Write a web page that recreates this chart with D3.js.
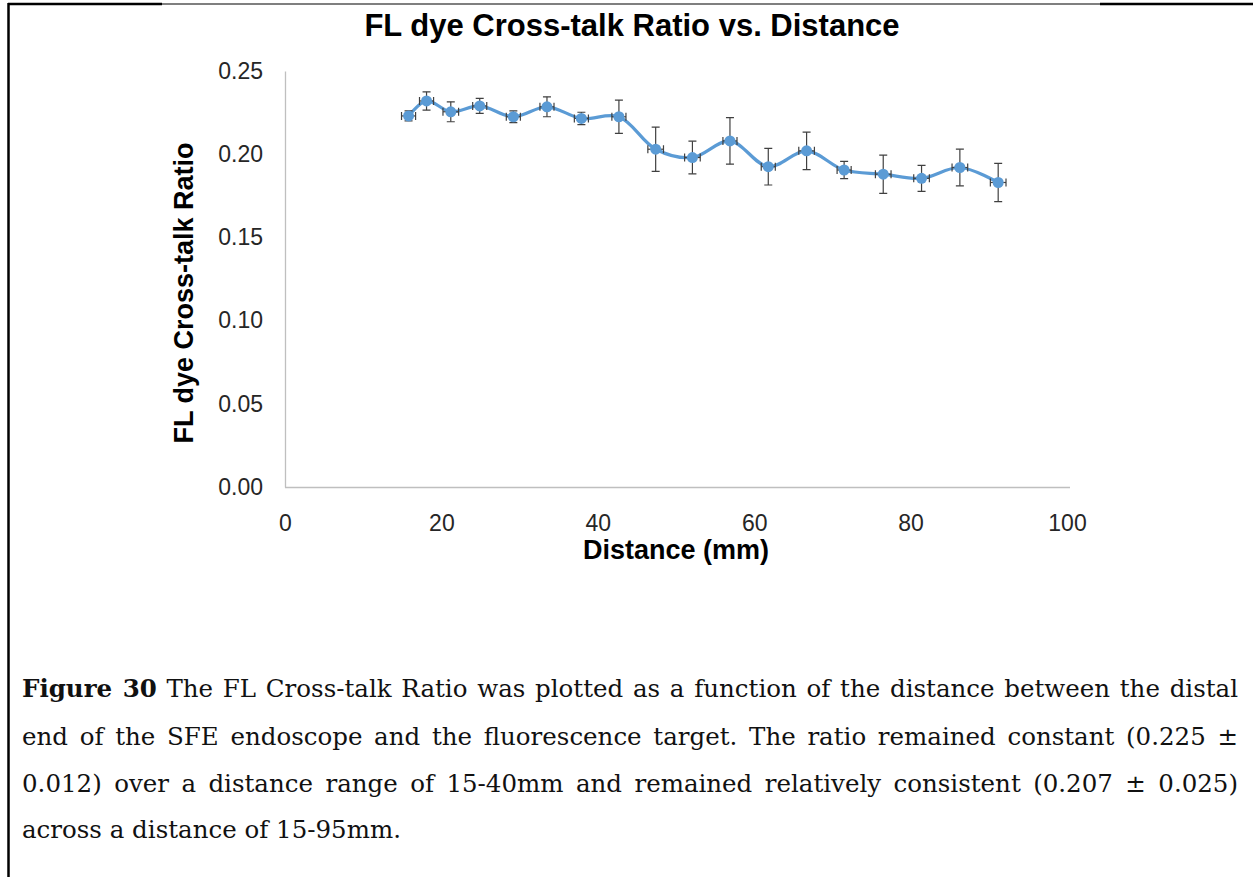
<!DOCTYPE html>
<html>
<head>
<meta charset="utf-8">
<script src="https://cdnjs.cloudflare.com/ajax/libs/d3/7.8.5/d3.min.js"></script>
<style>
  body { margin: 0; background: #fff; }
  svg { display: block; }
</style>
</head>
<body>
<div id="chart"></div>
<script>
// values
const distance = [15.8, 18.1, 21.2, 24.9, 29.2, 33.5, 37.9, 42.7, 47.4, 52.1, 56.9, 61.8, 66.7, 71.5, 76.5, 81.4, 86.3, 91.2];
const ratio = [0.223, 0.232, 0.2255, 0.229, 0.2225, 0.2285, 0.2215, 0.2225, 0.203, 0.198, 0.208, 0.1925, 0.202, 0.1905, 0.188, 0.1855, 0.192, 0.183];
const ratioErr = [0.003, 0.0055, 0.006, 0.0045, 0.0035, 0.006, 0.0037, 0.01, 0.0133, 0.0098, 0.014, 0.011, 0.0113, 0.0052, 0.0115, 0.0078, 0.011, 0.0115];
const distanceErr = [0.9, 0.9, 1.0, 0.9, 0.9, 0.9, 0.9, 0.9, 1.0, 1.0, 0.9, 0.9, 1.0, 0.9, 1.0, 1.0, 1.0, 1.0];
const xTicks = [0, 20, 40, 60, 80, 100];
const yTicks = [0, 0.05, 0.1, 0.15, 0.2, 0.25];

const chartTitle = "FL dye Cross-talk Ratio vs. Distance";
const xTitle = "Distance (mm)";
const yTitle = "FL dye Cross-talk Ratio";
const captionLines = [
  "The FL Cross-talk Ratio was plotted as a function of the distance between the distal",
  "end of the SFE endoscope and the fluorescence target. The ratio remained constant (0.225 \u00b1",
  "0.012) over a distance range of 15-40mm and remained relatively consistent (0.207 \u00b1 0.025)",
  "across a distance of 15-95mm."
];

const width = 1253, height = 877;
const margin = { top: 71, left: 285 };
const plotW = 782, plotH = 416;
const blue = "#5b9bd5";

const svg = d3.select("#chart").append("svg")
  .attr("width", width)
  .attr("height", height);

// page border of the figure box
const border = svg.append("g").attr("stroke", "#000").attr("fill", "none");
border.append("line").attr("x1", 8.5).attr("x2", 8.5).attr("y1", 3).attr("y2", height).attr("stroke-width", 2.5);
border.append("line").attr("x1", 8).attr("x2", 162).attr("y1", 4).attr("y2", 4).attr("stroke-width", 2.5);
border.append("line").attr("x1", 162).attr("x2", 1100).attr("y1", 4).attr("y2", 4).attr("stroke-width", 1.2);
border.append("line").attr("x1", 1100).attr("x2", width).attr("y1", 4).attr("y2", 4).attr("stroke-width", 2.5);

const data = distance.map((d, i) => ({
  x: d, y: ratio[i], ey: ratioErr[i], ex: distanceErr[i]
}));

const x = d3.scaleLinear().domain([0, 100]).range([margin.left, margin.left + plotW]);
const y = d3.scaleLinear().domain([0, 0.25]).range([margin.top + plotH, margin.top]);

// axes
const xAxis = svg.append("g")
  .attr("transform", `translate(0,${y(0)})`)
  .call(d3.axisBottom(x).tickValues(xTicks).tickSize(0).tickPadding(28).tickFormat(d3.format("d")));
const yAxis = svg.append("g")
  .attr("transform", `translate(${x(0)},0)`)
  .call(d3.axisLeft(y).tickValues(yTicks).tickSize(0).tickPadding(22).tickFormat(d3.format(".2f")));

[xAxis, yAxis].forEach((g) => {
  g.select(".domain").attr("stroke", "#bfbfbf").attr("stroke-width", 1.3);
  g.selectAll("text")
    .style("font-family", "'Liberation Sans', Arial, sans-serif")
    .style("font-size", "23px")
    .attr("fill", "#262626");
});
xAxis.select(".domain").attr("d", `M${x(0)},0.5H${x(100) + 3}`);

// titles
svg.append("text")
  .attr("x", 632).attr("y", 36)
  .attr("text-anchor", "middle")
  .style("font-family", "'Liberation Sans', Arial, sans-serif")
  .style("font-size", "31px").style("font-weight", "bold")
  .text(chartTitle);

svg.append("text")
  .attr("x", 676).attr("y", 559)
  .attr("text-anchor", "middle")
  .style("font-family", "'Liberation Sans', Arial, sans-serif")
  .style("font-size", "27px").style("font-weight", "bold")
  .text(xTitle);

svg.append("text")
  .attr("transform", "translate(193,293) rotate(-90)")
  .attr("text-anchor", "middle")
  .style("font-family", "'Liberation Sans', Arial, sans-serif")
  .style("font-size", "27px").style("font-weight", "bold")
  .text(yTitle);

// smoothed line
const line = d3.line()
  .x((d) => x(d.x))
  .y((d) => y(d.y))
  .curve(d3.curveCatmullRom.alpha(0.5));

svg.append("path")
  .datum(data)
  .attr("d", line)
  .attr("fill", "none")
  .attr("stroke", blue)
  .attr("stroke-width", 3.2);

// error bars
const err = svg.append("g").attr("stroke", "#404040").attr("stroke-width", 1.2);
const bars = err.selectAll("g").data(data).join("g");
bars.append("line")
  .attr("x1", (d) => x(d.x)).attr("x2", (d) => x(d.x))
  .attr("y1", (d) => y(d.y + d.ey)).attr("y2", (d) => y(d.y - d.ey));
bars.append("path")
  .attr("d", (d) => `M${x(d.x) - 4},${y(d.y + d.ey)}h8M${x(d.x) - 4},${y(d.y - d.ey)}h8`);
bars.append("line")
  .attr("x1", (d) => x(d.x - d.ex)).attr("x2", (d) => x(d.x + d.ex))
  .attr("y1", (d) => y(d.y)).attr("y2", (d) => y(d.y));
bars.append("path")
  .attr("d", (d) => `M${x(d.x - d.ex)},${y(d.y) - 4}v8M${x(d.x + d.ex)},${y(d.y) - 4}v8`);

// markers
svg.append("g")
  .selectAll("circle")
  .data(data)
  .join("circle")
  .attr("cx", (d) => x(d.x))
  .attr("cy", (d) => y(d.y))
  .attr("r", 5.5)
  .attr("fill", blue);

// caption, lines justified with word spacing
const capX = 22, capW = 1216;
const baselines = [697, 745, 792, 838];
captionLines.forEach((txt, i) => {
  const t = svg.append("text")
    .attr("x", capX).attr("y", baselines[i])
    .style("font-family", "'DejaVu Serif', Georgia, serif")
    .style("font-size", "24.5px")
    .attr("fill", "#111");
  let full = txt;
  if (i === 0) {
    t.append("tspan").style("font-weight", "bold").text("Figure 30");
    t.append("tspan").text(" " + txt);
    full = "Figure 30 " + txt;
  } else {
    t.text(txt);
  }
  if (i < captionLines.length - 1) {
    const len = t.node().getComputedTextLength();
    const gaps = full.split(" ").length - 1;
    t.style("word-spacing", ((capW - len) / gaps) + "px");
  }
});
</script>
</body>
</html>
